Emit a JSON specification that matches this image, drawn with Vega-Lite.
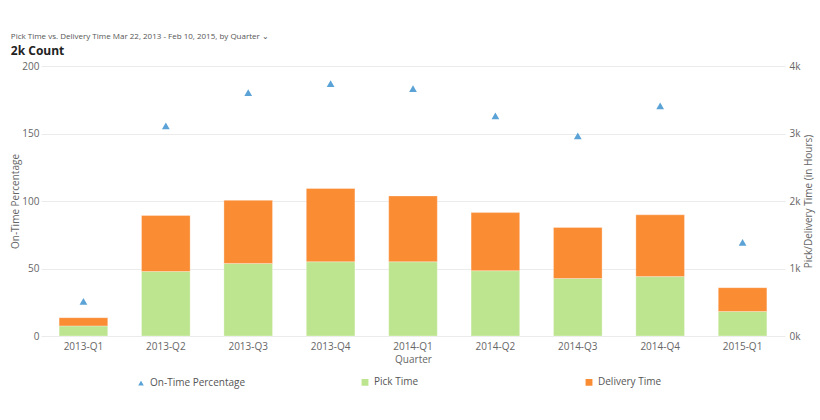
{
  "$schema": "https://vega.github.io/schema/vega-lite/v6.json",
  "width": 744,
  "height": 270,
  "padding": {"left": 10, "top": 33, "right": 5, "bottom": 5},
  "background": "#ffffff",
  "config": {
    "font": "Open Sans",
    "view": {"stroke": null},
    "axis": {"labelColor": "#666666", "titleColor": "#666666", "labelFontSize": 10, "titleFontSize": 10, "titleFontWeight": "normal", "gridColor": "#ebebeb", "domain": false, "ticks": false},
    "legend": {"labelColor": "#555555", "labelFontSize": 10, "layout": {"bottom": {"anchor": "middle"}}}
  },
  "title": {
    "text": "Pick Time vs. Delivery Time   Mar 22, 2013 - Feb 10, 2015, by Quarter ⌄",
    "subtitle": "2k Count",
    "anchor": "start",
    "frame": "bounds",
    "fontSize": 8,
    "fontWeight": "normal",
    "color": "#555555",
    "subtitleFontSize": 12,
    "subtitleFontWeight": "bold",
    "subtitleColor": "#222222",
    "subtitlePadding": 5,
    "offset": 4
  },
  "datasets": {
    "bars": [
      {"quarter": "2013-Q1", "series": "Pick Time", "value": 150},
      {"quarter": "2013-Q1", "series": "Delivery Time", "value": 122},
      {"quarter": "2013-Q2", "series": "Pick Time", "value": 955},
      {"quarter": "2013-Q2", "series": "Delivery Time", "value": 830},
      {"quarter": "2013-Q3", "series": "Pick Time", "value": 1075},
      {"quarter": "2013-Q3", "series": "Delivery Time", "value": 935},
      {"quarter": "2013-Q4", "series": "Pick Time", "value": 1100},
      {"quarter": "2013-Q4", "series": "Delivery Time", "value": 1085},
      {"quarter": "2014-Q1", "series": "Pick Time", "value": 1100},
      {"quarter": "2014-Q1", "series": "Delivery Time", "value": 975},
      {"quarter": "2014-Q2", "series": "Pick Time", "value": 968},
      {"quarter": "2014-Q2", "series": "Delivery Time", "value": 860},
      {"quarter": "2014-Q3", "series": "Pick Time", "value": 852},
      {"quarter": "2014-Q3", "series": "Delivery Time", "value": 756},
      {"quarter": "2014-Q4", "series": "Pick Time", "value": 880},
      {"quarter": "2014-Q4", "series": "Delivery Time", "value": 915},
      {"quarter": "2015-Q1", "series": "Pick Time", "value": 364},
      {"quarter": "2015-Q1", "series": "Delivery Time", "value": 352}
    ],
    "points": [
      {"quarter": "2013-Q1", "series": "On-Time Percentage", "pct": 25.6},
      {"quarter": "2013-Q2", "series": "On-Time Percentage", "pct": 155.6},
      {"quarter": "2013-Q3", "series": "On-Time Percentage", "pct": 180.3},
      {"quarter": "2013-Q4", "series": "On-Time Percentage", "pct": 186.9},
      {"quarter": "2014-Q1", "series": "On-Time Percentage", "pct": 183.2},
      {"quarter": "2014-Q2", "series": "On-Time Percentage", "pct": 163},
      {"quarter": "2014-Q3", "series": "On-Time Percentage", "pct": 148.2},
      {"quarter": "2014-Q4", "series": "On-Time Percentage", "pct": 170.4},
      {"quarter": "2015-Q1", "series": "On-Time Percentage", "pct": 69.3}
    ]
  },
  "encoding": {
    "x": {
      "field": "quarter",
      "type": "nominal",
      "title": "Quarter",
      "scale": {"paddingInner": 0.41, "paddingOuter": 0.22},
      "axis": {"labelAngle": 0, "labelPadding": 5, "titlePadding": 3}
    }
  },
  "layer": [
    {
      "data": {"name": "bars"},
      "mark": {"type": "bar", "stroke": "#ffffff", "strokeWidth": 0.6, "strokeOpacity": 0.5},
      "encoding": {
        "y": {
          "field": "value",
          "type": "quantitative",
          "stack": "zero",
          "title": "Pick/Delivery Time (in Hours)",
          "scale": {"domain": [0, 4000]},
          "axis": {"orient": "right", "grid": false, "format": "~s", "tickCount": 4, "labelPadding": 4, "titleAngle": 270, "titleBaseline": "top", "titlePadding": 4}
        },
        "color": {
          "field": "series",
          "type": "nominal",
          "scale": {"domain": ["On-Time Percentage", "Pick Time", "Delivery Time"], "range": ["#5ba3d6", "#bde48f", "#fa8c34"]},
          "legend": {"orient": "bottom", "direction": "horizontal", "title": " ", "titleOrient": "right", "titlePadding": 30, "gridAlign": "all", "columnPadding": 111, "symbolSize": 70, "offset": 13}
        },
        "order": {"field": "series", "sort": "descending"}
      }
    },
    {
      "data": {"name": "points"},
      "mark": {"type": "point", "filled": true, "opacity": 1, "size": 60},
      "encoding": {
        "y": {
          "field": "pct",
          "type": "quantitative",
          "title": "On-Time Percentage",
          "scale": {"domain": [0, 200]},
          "axis": {"orient": "left", "grid": true, "tickCount": 4, "labelPadding": 2, "titlePadding": 1}
        },
        "color": {"field": "series", "type": "nominal"},
        "shape": {
          "field": "series",
          "type": "nominal",
          "scale": {"domain": ["On-Time Percentage", "Pick Time", "Delivery Time"], "range": ["triangle-up", "square", "square"]},
          "legend": {"orient": "bottom", "direction": "horizontal", "title": " ", "titleOrient": "right", "titlePadding": 30, "gridAlign": "all", "columnPadding": 111, "symbolSize": 70, "offset": 13}
        }
      }
    }
  ],
  "resolve": {"scale": {"y": "independent"}}
}
